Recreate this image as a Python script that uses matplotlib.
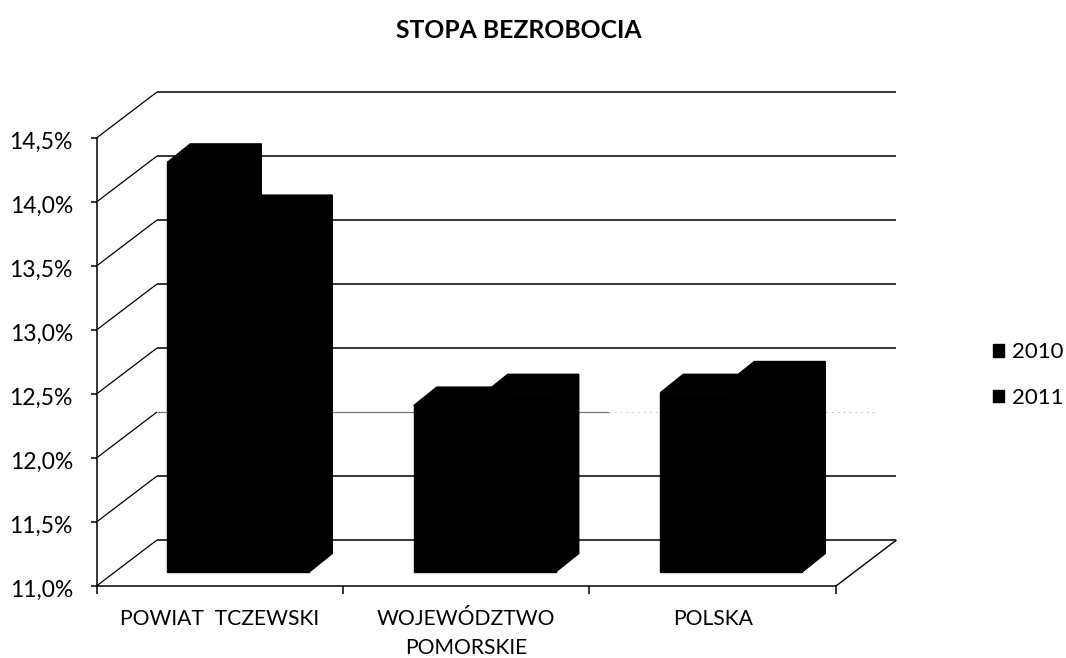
import matplotlib
matplotlib.use('Agg')
import matplotlib.pyplot as plt
from matplotlib.patches import Polygon
from matplotlib.transforms import ScaledTranslation

plt.rcParams['font.family'] = ['Lato', 'DejaVu Sans']

title = 'STOPA BEZROBOCIA'
categories = ['POWIAT  TCZEWSKI', 'WOJEWÓDZTWO\nPOMORSKIE', 'POLSKA']
years = ['2010', '2011']
values_2010 = [14.2, 12.3, 12.4]
values_2011 = [13.8, 12.4, 12.5]
y_ticks = [11.0, 11.5, 12.0, 12.5, 13.0, 13.5, 14.0, 14.5]
y_labels = ['11,0%', '11,5%', '12,0%', '12,5%', '13,0%', '13,5%', '14,0%', '14,5%']

W, H = 1066, 658
fig = plt.figure(figsize=(W / 100, H / 100), dpi=100)
ax = fig.add_axes([96.5 / W, (H - 586) / H, 739.5 / W, 448 / H])
ax.set_xlim(0, 3)
ax.set_ylim(11, 14.5)

# pixel sizes of the fake 3d box, turned into data units
PX_X = 3 / 739.5
PX_Y = 3.5 / 448
WALL_X, WALL_Y = 60.5 * PX_X, 46 * PX_Y
FRONT_X, FRONT_Y = 18.5 * PX_X, 14 * PX_Y
DEPTH_X, DEPTH_Y = 23 * PX_X, 18.5 * PX_Y
BAR_W = 71 * PX_X


def line(xs, ys, color='black', lw=1.0, ls='-', z=1):
    ax.plot(xs, ys, color=color, lw=lw, ls=ls, zorder=z, clip_on=False,
            solid_capstyle='butt')


# back wall grid and the diagonals on the left wall
for v in y_ticks:
    line([0, WALL_X], [v, v + WALL_Y], lw=0.9)
    if v == 12.0:
        # this line nearly vanished in the scan
        line([WALL_X, 2.08], [v + WALL_Y, v + WALL_Y], color='#777777', lw=0.9)
        line([2.08, 2.28], [v + WALL_Y, v + WALL_Y], color='#aaaaaa', lw=0.7, ls=(0, (1, 5)))
        line([2.96, 3.16], [v + WALL_Y, v + WALL_Y], color='#888888', lw=0.7, ls=(0, (1, 5)))
    else:
        line([WALL_X, 3 + WALL_X], [v + WALL_Y, v + WALL_Y], lw=1.1)

# floor, right edge
line([3, 3 + WALL_X], [11, 11 + WALL_Y], lw=1.0)

# bars: front faces from ax.bar, top and side as polygons
for i in range(3):
    for k, vals in enumerate([values_2010, values_2011]):
        left = i + 0.5 + FRONT_X - BAR_W + k * BAR_W
        base = 11 + FRONT_Y
        top = vals[i] + FRONT_Y
        ax.bar(left, vals[i] - 11, width=BAR_W, bottom=base, align='edge',
               color='black', edgecolor='black', lw=1, zorder=3 + k, clip_on=False,
               label=years[k] if i == 0 else None)
        right = left + BAR_W
        ax.add_patch(Polygon([(left, top), (left + DEPTH_X, top + DEPTH_Y),
                              (right + DEPTH_X, top + DEPTH_Y), (right, top)],
                             closed=True, fc='black', ec='black', lw=1, zorder=2 + k,
                             clip_on=False))
        ax.add_patch(Polygon([(right, base), (right + DEPTH_X, base + DEPTH_Y),
                              (right + DEPTH_X, top + DEPTH_Y), (right, top)],
                             closed=True, fc='black', ec='black', lw=1, zorder=2 + k,
                             clip_on=False))

for s in ['top', 'right']:
    ax.spines[s].set_visible(False)
for s in ['left', 'bottom']:
    ax.spines[s].set_linewidth(1.1)
ax.patch.set_visible(False)

ax.set_yticks(y_ticks)
ax.set_yticklabels(y_labels, fontsize=16.5)
ax.tick_params(axis='y', length=4, width=1.1, pad=13)
ax.set_xticks([0, 1, 2, 3])
ax.set_xticklabels([])
ax.tick_params(axis='x', length=6, width=1.1)
shift = ScaledTranslation(0, -2 / 100, fig.dpi_scale_trans)
for lbl in ax.get_yticklabels():
    lbl.set_transform(lbl.get_transform() + shift)

for i, c in enumerate(categories):
    ax.text(i + 0.5, 11 - 23 * PX_Y, c, ha='center', va='top', fontsize=15.2,
            linespacing=1.55)

fig.text(519 / W, 1 - 31 / H, title, ha='center', va='center', fontsize=17.8,
         fontweight='bold')

ax.legend(loc='center left', bbox_to_anchor=(993 / W, 1 - 375 / H),
          bbox_transform=fig.transFigure, frameon=False, fontsize=16, handlelength=0.5,
          handleheight=0.5, handletextpad=0.35, labelspacing=1.15, borderpad=0, borderaxespad=0)

fig.savefig('out.png', dpi=100)
